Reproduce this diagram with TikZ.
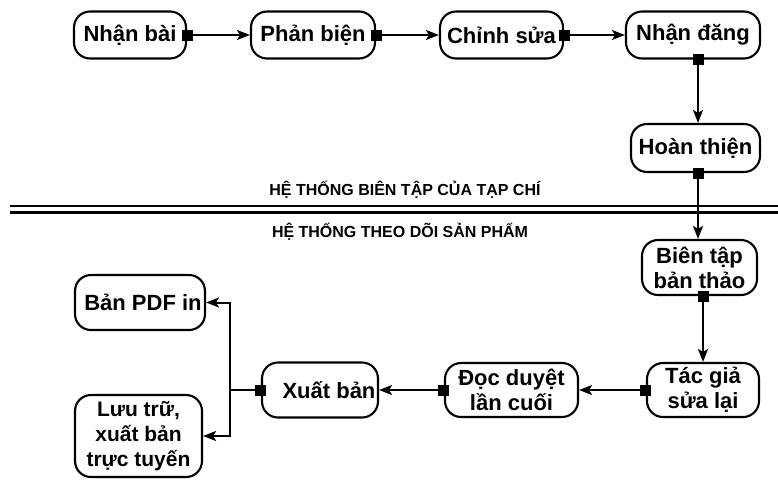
\documentclass[tikz,border=0pt]{standalone}
\usepackage{fontspec}
\setmainfont{Liberation Sans}
\usetikzlibrary{arrows.meta}
\begin{document}
\begin{tikzpicture}[x=1pt,y=-1pt,
  box/.style={draw, line width=2.1pt, rounded corners=16pt, align=center,
    inner sep=2pt, font=\bfseries\fontsize{22}{25}\selectfont},
  flow/.style={line width=2pt, -{Stealth[length=13pt,width=10pt,inset=3pt]}},
  link/.style={line width=2pt},
  sq/.style={rectangle, fill=black, draw=none, minimum size=11pt, inner sep=0pt},
  band/.style={font=\bfseries\fontsize{16}{18}\selectfont},
  rule/.style={line width=2.2pt}]
\useasboundingbox (0,0) rectangle (778,480);

% editorial system (top)
\node[box, minimum width=112pt, minimum height=47pt] (nb) at (130,35) {Nhận bài};
\node[box, minimum width=124pt, minimum height=47pt] (pb) at (313,35) {Phản biện};
\node[box, minimum width=123pt, minimum height=47pt] (cs) at (501.5,35) {Chỉnh sửa};
\node[box, minimum width=134pt, minimum height=47pt] (nd) at (693,35) {Nhận đăng};
\node[box, minimum width=129pt, minimum height=48pt] (ht) at (695.5,148) {Hoàn thiện};

% section labels and divider
\node[band] (t1) at (405,190) {HỆ THỐNG BIÊN TẬP CỦA TẠP CHÍ};
\node[band] (t2) at (400,232) {HỆ THỐNG THEO DÕI SẢN PHẨM};
\coordinate (r1a) at (10,206);   \coordinate (r1b) at (778,206);
\coordinate (r2a) at (10,212.5); \coordinate (r2b) at (778,212.5);
\draw[rule] (r1a) -- (r1b);
\draw[rule] (r2a) -- (r2b);

% production tracking (bottom)
\node[box, minimum width=115pt, minimum height=55pt] (bt) at (699.5,267.5) {Biên tập\\bản thảo};
\node[box, minimum width=112pt, minimum height=54pt] (tg) at (703,390) {Tác giả\\sửa lại};
\node[box, minimum width=133pt, minimum height=54pt] (dd) at (511.5,390) {Đọc duyệt\\lần cuối};
\node[box, minimum width=116pt, minimum height=55pt] (xb) at (320,390) {\hspace*{18pt}Xuất bản};
\node[box, minimum width=130pt, minimum height=55pt] (pdf) at (140,302.5) {\hspace*{6pt}Bản PDF in};
\node[box, minimum width=127pt, minimum height=82pt,
      font=\bfseries\fontsize{21}{25}\selectfont] (lt) at (138.5,436) {Lưu trữ,\\xuất bản\\trực tuyến};

% vertical columns of the right-hand chain
\coordinate (c1) at (698,0);
\coordinate (c2) at (703,0);
\coordinate (fork) at (230,390);

% connectors
\draw[flow] (nb.east) -- (pb.west);
\draw[flow] (pb.east) -- (cs.west);
\draw[flow] (cs.east) -- (nd.west);
\draw[flow] (nd.south -| c1) -- (ht.north -| c1);
\draw[flow] (ht.south -| c1) -- (bt.north -| c1);
\draw[flow] (bt.south -| c2) -- (tg.north -| c2);
\draw[flow] (tg.west) -- (dd.east);
\draw[flow] (dd.west) -- (xb.east);
\draw[link] (xb.west) -- (fork);
\draw[flow] (fork) |- (pdf.east);
\draw[flow] (fork) |- (lt.east);

% source markers
\node[sq] (m1) at (nb.east) {};
\node[sq] (m2) at (pb.east) {};
\node[sq] (m3) at (cs.east) {};
\node[sq] (m4) at (nd.south -| c1) {};
\node[sq] (m5) at (ht.south -| c1) {};
\node[sq] (m6) at (bt.south -| c2) {};
\node[sq] (m7) at (tg.west) {};
\node[sq] (m8) at (dd.west) {};
\node[sq] (m9) at (xb.west) {};
\end{tikzpicture}
\end{document}
